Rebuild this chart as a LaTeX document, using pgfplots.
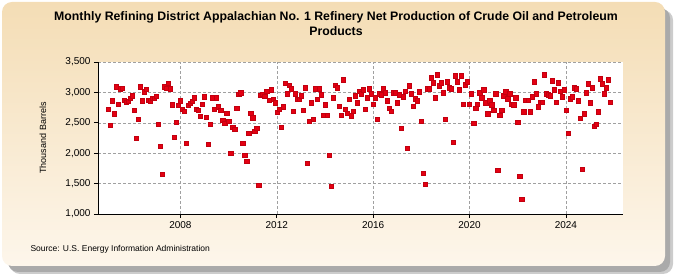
\documentclass[border=0pt]{standalone}
\usepackage{fontspec}
\setmainfont{Liberation Sans}
\usepackage{pgfplots}
\pgfplotsset{compat=1.18}
\definecolor{panelTop}{RGB}{244,221,181}
\definecolor{panelBot}{RGB}{253,246,235}
\definecolor{shadowgray}{RGB}{170,170,170}
\definecolor{dotred}{RGB}{228,0,18}
\definecolor{gridgray}{RGB}{160,160,160}

\begin{document}
\begin{tikzpicture}
% page frame, 1pt = 1px of the reference
\path (0pt,0pt) rectangle (675pt,275pt);
\fill[shadowgray!60, rounded corners=10pt] (10pt,1pt) rectangle (673pt,265pt);
\fill[shadowgray, rounded corners=10pt] (8pt,3pt) rectangle (670pt,267pt);
\shade[top color=panelTop, bottom color=panelBot, rounded corners=10pt] (2pt,9pt) rectangle (665pt,273pt);

\node[font=\bfseries\fontsize{12.3}{15}\selectfont, align=center] at (336pt,251pt)
  {Monthly Refining District Appalachian No. 1 Refinery Net Production of Crude Oil and Petroleum\\Products};
\node[font=\fontsize{9}{11}\selectfont, rotate=90] at (43pt,137pt) {Thousand Barrels};
\node[font=\fontsize{8.5}{10}\selectfont, anchor=west] at (27pt,26pt) {Source: U.S. Energy Information Administration};

\begin{axis}[
    at={(98pt,61pt)}, anchor=south west,
    width=525pt, height=152pt, scale only axis,
    xmin=2004.58, xmax=2026.37,
    ymin=1000, ymax=3500,
    axis x line*=bottom, axis y line*=left,
    axis line style={black, line width=0.8pt},
    axis background/.style={fill=white},
    xtick={2008,2012,2016,2020,2024},
    ytick={1000,1500,2000,2500,3000,3500},
    tick align=outside, major tick length=4pt,
    tick style={black, line width=0.6pt},
    grid=major,
    major grid style={gridgray, dash pattern=on 3pt off 2pt, line width=0.5pt},
    /pgf/number format/assume math mode=true,
    ticklabel style={font=\fontsize{10}{12}\selectfont},
    xticklabel style={/pgf/number format/1000 sep={}},
    yticklabel style={/pgf/number format/1000 sep={,}},
    clip=false,
  ]
  \addplot[only marks, mark=square*, mark size=2.1pt,
    mark options={fill=dotred, draw=dotred!85!black, line width=0.3pt}]
  coordinates {
    (2005.000,2731) (2005.083,2467) (2005.167,2863) (2005.250,2649) (2005.333,3093) (2005.417,2813)
    (2005.500,3060) (2005.583,3071) (2005.667,2879) (2005.750,2835) (2005.833,2857) (2005.917,2907)
    (2006.000,2945) (2006.083,2714) (2006.167,2253) (2006.250,2566) (2006.333,3093) (2006.417,2863)
    (2006.500,3011) (2006.583,3055) (2006.667,2879) (2006.750,2863) (2006.833,2901) (2006.917,2907)
    (2007.000,2934) (2007.083,2484) (2007.167,2122) (2007.250,1660) (2007.333,3093) (2007.417,3071)
    (2007.500,3154) (2007.583,3060) (2007.667,2797) (2007.750,2270) (2007.833,2506) (2007.917,2786)
    (2008.000,2863) (2008.083,2731) (2008.167,2698) (2008.250,2171) (2008.333,2786) (2008.417,2824)
    (2008.500,2852) (2008.583,2912) (2008.667,2725) (2008.750,2709) (2008.833,2610) (2008.917,2813)
    (2009.000,2929) (2009.083,2594) (2009.167,2155) (2009.250,2484) (2009.333,2912) (2009.417,2725)
    (2009.500,2912) (2009.583,2764) (2009.667,2709) (2009.750,2550) (2009.833,2489) (2009.917,2665)
    (2010.000,2528) (2010.083,2006) (2010.167,2429) (2010.250,2402) (2010.333,2742) (2010.417,2973)
    (2010.500,2995) (2010.583,2171) (2010.667,1968) (2010.750,1875) (2010.833,2336) (2010.917,2665)
    (2011.000,2583) (2011.083,2369) (2011.167,2418) (2011.250,1479) (2011.333,2951) (2011.417,2973)
    (2011.500,2934) (2011.583,3027) (2011.667,2874) (2011.750,3044) (2011.833,2890) (2011.917,2830)
    (2012.000,2671) (2012.083,2720) (2012.167,2429) (2012.250,2764) (2012.333,3148) (2012.417,2978)
    (2012.500,3121) (2012.583,3060) (2012.667,2693) (2012.750,2978) (2012.833,2890) (2012.917,2890)
    (2013.000,2945) (2013.083,2714) (2013.167,3077) (2013.250,1842) (2013.333,2533) (2013.417,2830)
    (2013.500,2566) (2013.583,3060) (2013.667,2890) (2013.750,3060) (2013.833,2962) (2013.917,2632)
    (2014.000,2797) (2014.083,2632) (2014.167,1973) (2014.250,1452) (2014.333,2912) (2014.417,3115)
    (2014.500,3077) (2014.583,2780) (2014.667,2632) (2014.750,3209) (2014.833,2725) (2014.917,2665)
    (2015.000,2890) (2015.083,2616) (2015.167,2698) (2015.250,2945) (2015.333,2830) (2015.417,3022)
    (2015.500,2978) (2015.583,3044) (2015.667,2731) (2015.750,2912) (2015.833,3060) (2015.917,2978)
    (2016.000,2813) (2016.083,2912) (2016.167,2566) (2016.250,2978) (2016.333,2962) (2016.417,3060)
    (2016.500,2995) (2016.583,2863) (2016.667,2747) (2016.750,2698) (2016.833,2995) (2016.917,2995)
    (2017.000,2830) (2017.083,2962) (2017.167,2418) (2017.250,2929) (2017.333,3027) (2017.417,2089)
    (2017.500,3110) (2017.583,2978) (2017.667,2780) (2017.750,2896) (2017.833,2863) (2017.917,3011)
    (2018.000,2533) (2018.083,1677) (2018.167,1496) (2018.250,3060) (2018.333,3060) (2018.417,3242)
    (2018.500,3159) (2018.583,2912) (2018.667,3291) (2018.750,3110) (2018.833,3159) (2018.917,2995)
    (2019.000,2566) (2019.083,3176) (2019.167,3077) (2019.250,3060) (2019.333,2187) (2019.417,3275)
    (2019.500,3176) (2019.583,3044) (2019.667,3275) (2019.750,2813) (2019.833,3126) (2019.917,3176)
    (2020.000,2813) (2020.083,2978) (2020.167,2500) (2020.250,2747) (2020.333,2813) (2020.417,2995)
    (2020.500,2912) (2020.583,3044) (2020.667,2830) (2020.750,2649) (2020.833,2863) (2020.917,2797)
    (2021.000,2714) (2021.083,2978) (2021.167,1726) (2021.250,2632) (2021.333,2714) (2021.417,2945)
    (2021.500,3011) (2021.583,2896) (2021.667,2978) (2021.750,2813) (2021.833,2797) (2021.917,2912)
    (2022.000,2517) (2022.083,1627) (2022.167,1249) (2022.250,2682) (2022.333,2879) (2022.417,2879)
    (2022.500,2682) (2022.583,2929) (2022.667,3176) (2022.750,2978) (2022.833,2764) (2022.917,2846)
    (2023.000,2846) (2023.083,3291) (2023.167,2978) (2023.250,2962) (2023.333,2945) (2023.417,3192)
    (2023.500,3044) (2023.583,2846) (2023.667,3159) (2023.750,3027) (2023.833,2929) (2023.917,3044)
    (2024.000,2714) (2024.083,2336) (2024.167,2896) (2024.250,2929) (2024.333,3077) (2024.417,3060)
    (2024.500,2863) (2024.583,2577) (2024.667,1743) (2024.750,2649) (2024.833,2995) (2024.917,3143)
    (2025.000,2830) (2025.083,3077) (2025.167,2451) (2025.250,2484) (2025.333,2682) (2025.417,3225)
    (2025.500,3143) (2025.583,2978) (2025.667,3077) (2025.750,3209) (2025.833,2846)
  };
\end{axis}
\end{tikzpicture}
\end{document}
